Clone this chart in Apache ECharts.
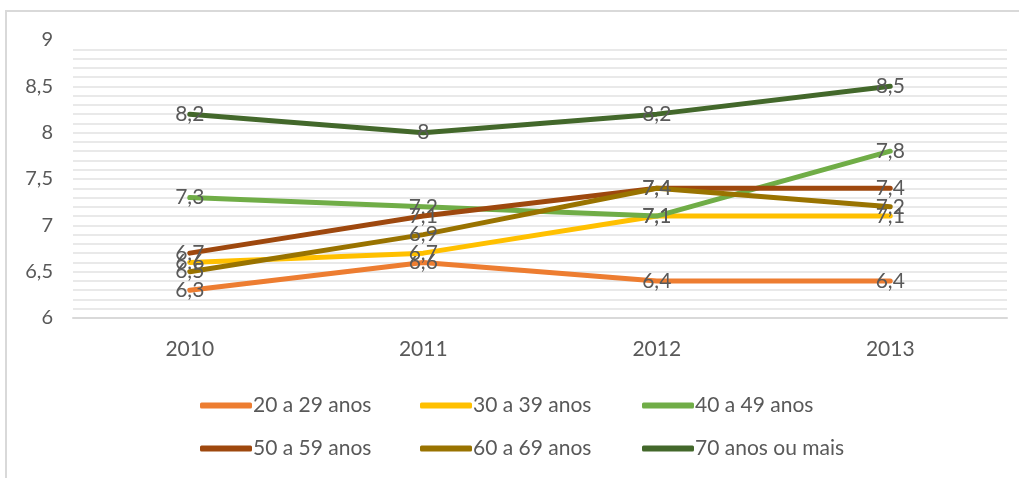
<!DOCTYPE html>
<html><head><meta charset="utf-8">
<script src="https://cdn.jsdelivr.net/npm/echarts@6/dist/echarts.min.js"></script>
<style>html,body{margin:0;padding:0;background:#fff}#c{width:1019px;height:478px}</style>
</head><body><div id="c"></div>
<script>
const categories = ['2010', '2011', '2012', '2013'];
const seriesNames = ['20 a 29 anos', '30 a 39 anos', '40 a 49 anos', '50 a 59 anos', '60 a 69 anos', '70 anos ou mais'];
const s20a29 = [6.3, 6.6, 6.4, 6.4];
const s30a39 = [6.6, 6.7, 7.1, 7.1];
const s40a49 = [7.3, 7.2, 7.1, 7.8];
const s50a59 = [6.7, 7.1, 7.4, 7.4];
const s60a69 = [6.5, 6.9, 7.4, 7.2];
const s70mais = [8.2, 8.0, 8.2, 8.5];
const yTicks = [6, 6.5, 7, 7.5, 8, 8.5, 9];

const values = [s20a29, s30a39, s40a49, s50a59, s60a69, s70mais];
const colors = ['#ED7D31', '#FFC000', '#70AD47', '#9E480E', '#997300', '#43682B'];
const FONT = 'Lato';
const fmt = v => String(v).replace('.', ',');

const legendPos = [[195, 390], [415, 390], [637, 390], [195, 433], [415, 433], [637, 433]];
const legends = seriesNames.map((n, i) => ({
  data: [n], left: legendPos[i][0], top: legendPos[i][1],
  icon: 'roundRect', itemWidth: 52, itemHeight: 6, itemGap: 0,
  textStyle: {fontFamily: FONT, fontSize: 21, color: '#595959', padding: [0, 0, 0, -4]}
}));

const chart = echarts.init(document.getElementById('c'));
chart.setOption({
  animation: false,
  color: colors,
  graphic: [{type: 'rect', shape: {x: 6, y: 11, width: 1100, height: 600}, style: {fill: null, stroke: '#d9d9d9', lineWidth: 2}, silent: true, z: -1}],
  grid: {left: 73, right: 12, top: 40, bottom: 160, containLabel: false},
  legend: legends,
  xAxis: {
    type: 'category', data: categories, boundaryGap: true,
    axisLine: {lineStyle: {color: '#d9d9d9', width: 2}},
    axisTick: {show: false},
    axisLabel: {fontFamily: FONT, fontSize: 21, color: '#595959', margin: 21}
  },
  yAxis: {
    type: 'value', min: yTicks[0], max: yTicks[yTicks.length - 1], interval: 0.5,
    axisLine: {show: false}, axisTick: {show: false},
    axisLabel: {fontFamily: FONT, fontSize: 20, color: '#595959', margin: 20, formatter: v => fmt(v)},
    splitLine: {show: true, showMaxLine: false, lineStyle: {color: '#e9e9e9', width: 2}},
    minorTick: {show: false, splitNumber: 5},
    minorSplitLine: {show: true, lineStyle: {color: '#e9e9e9', width: 2}}
  },
  series: values.map((d, i) => ({
    name: seriesNames[i], type: 'line', data: d,
    symbol: 'circle', symbolSize: 1, showSymbol: true,
    lineStyle: {width: 5, color: colors[i], cap: 'round'},
    itemStyle: {color: colors[i]},
    label: {show: true, position: 'inside', offset: [1, 1], fontFamily: FONT, fontSize: 21, color: '#595959', formatter: p => fmt(p.value)},
    labelLayout: {hideOverlap: false},
    z: 2 + i
  }))
});
</script></body></html>
